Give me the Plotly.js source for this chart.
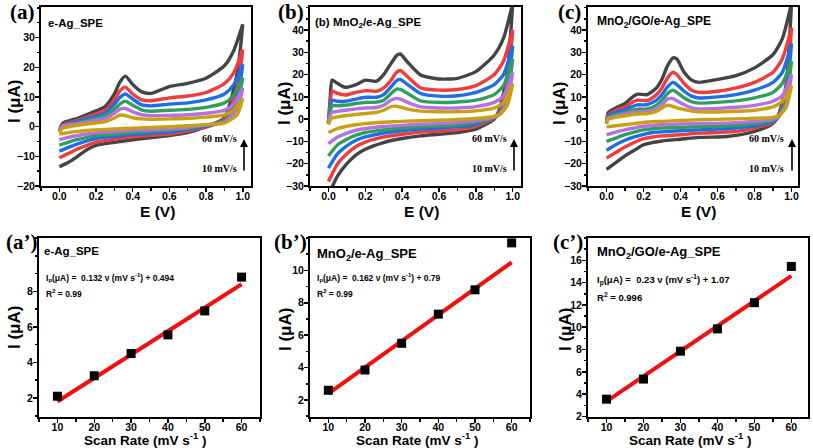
<!DOCTYPE html>
<html><head><meta charset="utf-8">
<script src="https://cdn.plot.ly/plotly-3.0.1.min.js"></script>
<style>html,body{margin:0;padding:0;background:#fff}#chart{width:813px;height:448px}</style>
</head><body><div id="chart"></div>
<script>
// ---------- DATA ----------
const scanRates = [60, 50, 40, 30, 20, 10];
const curveColors = ['#444444', '#f03c3c', '#1f6ee8', '#2ea05c', '#b470e4', '#c9a010'];

// Panel (a) e-Ag_SPE
const aEfwd = [0, 0.02, 0.1, 0.2, 0.25, 0.3, 0.33, 0.36, 0.4, 0.45, 0.5, 0.6, 0.7, 0.8, 0.9, 0.95, 1.0];
const aFwd60 = [-1.5, 1.2, 2.8, 5.3, 6.8, 11, 15, 17, 14.2, 11.7, 11.2, 13.5, 14.6, 16.3, 20.5, 25.5, 34.5];
const aFwd50 = [-1.2, 0.6, 2.2, 4.3, 5.5, 9, 12, 13.3, 11, 9, 8.7, 9.7, 10.3, 11.5, 14.5, 18, 26];
const aFwd40 = [-1.5, 0.3, 1.8, 3.5, 4.5, 7.5, 9.8, 11, 9.3, 7.3, 7, 7.6, 8, 9, 11, 14, 21];
const aFwd30 = [-1.5, 0.2, 1.3, 2.8, 3.7, 5.8, 7.6, 8.6, 7.2, 5.6, 5.2, 5.5, 5.8, 6.5, 8, 10.5, 16.5];
const aFwd20 = [-1.5, 0.2, 1, 2.2, 2.8, 4.5, 5.9, 6.1, 5, 4, 3.7, 3.8, 4, 4.5, 5.5, 7.5, 13];
const aFwd10 = [-2, -0.5, 0.5, 1.3, 1.7, 2.9, 3.9, 3.7, 3, 2.6, 2.5, 2.6, 2.8, 3.2, 4, 5.5, 9.5];
const aErev = [1.0, 0.97, 0.9, 0.8, 0.7, 0.6, 0.4, 0.3, 0.2, 0.15, 0.1, 0.05, 0.0];
const aRev60 = [34.5, 18, 3, 0, -2, -3, -4.4, -5.3, -6.3, -7.8, -10, -12, -13.5];
const aRev50 = [26, 13, 2.5, -0.2, -1.5, -2.5, -3.4, -4.2, -5.2, -6.3, -7.5, -9, -10.5];
const aRev40 = [21, 10, 2, 0.2, -1, -1.8, -2.6, -3.3, -4, -4.8, -5.8, -7, -8.3];
const aRev30 = [16.5, 8, 1.8, 0.5, -0.6, -1.2, -2, -2.5, -3, -3.6, -4.3, -5.2, -6.2];
const aRev20 = [13, 6, 1.5, 0.6, -0.2, -0.7, -1.3, -1.7, -2.1, -2.5, -3, -3.6, -4.4];
const aRev10 = [9.5, 4, 1.2, 0.7, 0.3, 0, -0.5, -0.8, -1.1, -1.3, -1.6, -2, -2.5];

// Panel (b) MnO2/e-Ag_SPE
const bEfwd = [0, 0.01, 0.02, 0.05, 0.09, 0.15, 0.2, 0.26, 0.3, 0.34, 0.37, 0.39, 0.43, 0.5, 0.6, 0.7, 0.8, 0.9, 0.95, 1.0];
const bFwd60 = [-2, 10, 17.5, 16, 14.3, 15.5, 17.5, 17, 20, 25, 28.5, 29.2, 25.5, 19.8, 18, 18.3, 21.3, 28.8, 36.3, 52];
const bFwd50 = [-1.5, 7, 12.5, 11.5, 10.8, 12, 12.8, 12.5, 14, 17.5, 21, 21.8, 19, 14, 13, 13.3, 15, 20, 26, 40];
const bFwd40 = [-1.5, 5, 8.5, 8, 8, 9, 9.8, 9.8, 11, 14.5, 17.3, 17.8, 15.5, 11.5, 10.3, 10.5, 12, 15.5, 20, 33];
const bFwd30 = [-1, 3.5, 6, 6, 6.2, 7, 7.5, 7.6, 8.5, 11.5, 13.5, 13.3, 11.5, 8.2, 7.5, 7.7, 8.5, 11, 15, 27];
const bFwd20 = [-1, 1.8, 3, 3.5, 4, 4.6, 5, 5.2, 6.2, 8.5, 9.3, 9, 7.5, 5.5, 5, 5, 5.6, 7.5, 10.5, 21];
const bFwd10 = [-2.5, -0.5, 0.5, 1, 1.5, 2.1, 2.5, 3, 4, 5.6, 5.8, 5.4, 4.5, 3.6, 3.3, 3.3, 3.7, 5, 7.5, 16];
const bErev = [1.0, 0.97, 0.93, 0.9, 0.8, 0.7, 0.6, 0.5, 0.4, 0.3, 0.2, 0.15, 0.1, 0.05, 0.0];
const bRev60 = [52, 20, 5, 0, -4.5, -6, -6.8, -7.5, -8.7, -10.5, -13.5, -16, -20, -25.5, -34];
const bRev50 = [40, 15, 4, 0.5, -3.3, -4.8, -5.3, -5.8, -6.8, -8, -10.3, -12.3, -15.5, -20, -28];
const bRev40 = [33, 12, 3, 0.7, -2.3, -3.5, -4, -4.5, -5.2, -6.2, -8, -9.5, -12, -15.5, -22];
const bRev30 = [27, 10, 2.5, 0.8, -1.5, -2.5, -3, -3.4, -4, -4.8, -6, -7.2, -9, -11.5, -16.5];
const bRev20 = [21, 8, 2.2, 1, -0.7, -1.5, -2, -2.3, -2.8, -3.3, -4.2, -5, -6.3, -8, -11];
const bRev10 = [16, 6, 2, 1.2, 0.3, -0.2, -0.5, -0.7, -1, -1.4, -2, -2.5, -3.2, -4.2, -6];

// Panel (c) MnO2/GO/e-Ag_SPE
const cEfwd = [0, 0.01, 0.05, 0.1, 0.15, 0.17, 0.22, 0.27, 0.3, 0.33, 0.36, 0.38, 0.42, 0.46, 0.5, 0.6, 0.7, 0.8, 0.9, 0.95, 1.0];
const cFwd60 = [-2, 3, 5, 7, 10.5, 11.2, 11, 14, 18, 24, 27.5, 27, 21, 17.5, 16.5, 17.8, 19.5, 23, 29, 36, 52];
const cFwd50 = [-1.5, 2, 4, 5.5, 8, 8.5, 8.3, 11, 14, 18.5, 21, 20, 16, 13, 12, 12.5, 14, 16.5, 21, 27, 41];
const cFwd40 = [-1, 1.5, 3, 4.3, 6, 6.4, 6.5, 8.5, 11, 14.5, 16.5, 15.5, 12.5, 10.3, 9.5, 10, 11, 13, 16.5, 21, 34];
const cFwd30 = [-1, 1, 2, 3, 4.3, 4.5, 4.6, 6.3, 8.5, 11.5, 13, 12, 9.5, 7.8, 7.2, 7.5, 8.2, 9.5, 12, 16, 26];
const cFwd20 = [-0.5, 0.5, 1.5, 2.3, 3.2, 3.3, 3.4, 4.6, 6.3, 9, 9.2, 8.2, 6.5, 5, 4.6, 4.8, 5.3, 6.2, 8, 10.5, 20];
const cFwd10 = [-1.8, 0, 0.8, 1.5, 2.2, 2.3, 2.5, 3.5, 5, 6.3, 5.7, 5, 4.3, 3.6, 3.3, 3.2, 3.5, 4, 5.5, 8, 15];
const cErev = [1.0, 0.97, 0.93, 0.9, 0.8, 0.7, 0.65, 0.6, 0.5, 0.4, 0.3, 0.25, 0.2, 0.15, 0.1, 0.05, 0.0];
const cRev60 = [52, 15, 2, -2, -5.5, -7.3, -7.8, -8, -8.2, -9, -9.8, -10.5, -11.5, -14, -16.5, -19.5, -22.5];
const cRev50 = [41, 12, 1.5, -1.5, -4, -5.5, -5.8, -6, -6.3, -7, -7.5, -8, -8.8, -10.5, -12.5, -15, -17.5];
const cRev40 = [34, 10, 1, -1, -3, -4, -4.3, -4.5, -4.8, -5.2, -5.7, -6, -6.8, -8, -9.5, -11.5, -14];
const cRev30 = [26, 8, 1, -0.5, -2, -2.8, -3, -3.2, -3.4, -3.7, -4, -4.3, -4.8, -5.8, -7, -8.5, -10];
const cRev20 = [20, 6, 1.2, 0, -1, -1.6, -1.8, -1.9, -2, -2.2, -2.5, -2.8, -3.2, -4, -4.8, -5.8, -7];
const cRev10 = [15, 5, 1.5, 0.8, 0.4, 0.1, 0, -0.1, -0.3, -0.6, -1, -1.2, -1.5, -2, -2.5, -3, -3.5];

// Peak current vs scan rate
const rateX = [10, 20, 30, 40, 50, 60];
const ipA = [2.1, 3.25, 4.5, 5.55, 6.9, 8.8];
const ipB = [2.6, 3.85, 5.5, 7.3, 8.8, 11.7];
const ipC = [3.55, 5.35, 7.85, 9.85, 12.2, 15.45];
const fitX = [10, 60];
const fitA = [1.8, 8.4];
const fitB = [2.4, 10.5];
const fitC = [3.35, 14.6];

// ---------- BUILD ----------
const W = 813, H = 448;
const px = x => x / W, py = y => (H - y) / H;
const traces = [];
function addCV(ax, Ef, fwds, Er, revs) {
  for (let i = 0; i < fwds.length; i++) {
    traces.push({
      x: Ef.concat(Er), y: fwds[i].concat(revs[i]),
      xaxis: 'x' + ax, yaxis: 'y' + ax, type: 'scatter', mode: 'lines',
      line: {color: curveColors[i], width: 3.4, shape: 'spline', smoothing: 0.6},
      name: scanRates[i] + ' mV/s', showlegend: false, hoverinfo: 'skip'
    });
  }
}
addCV('', aEfwd, [aFwd60, aFwd50, aFwd40, aFwd30, aFwd20, aFwd10], aErev, [aRev60, aRev50, aRev40, aRev30, aRev20, aRev10]);
addCV('2', bEfwd, [bFwd60, bFwd50, bFwd40, bFwd30, bFwd20, bFwd10], bErev, [bRev60, bRev50, bRev40, bRev30, bRev20, bRev10]);
addCV('3', cEfwd, [cFwd60, cFwd50, cFwd40, cFwd30, cFwd20, cFwd10], cErev, [cRev60, cRev50, cRev40, cRev30, cRev20, cRev10]);
[['4', ipA, fitA], ['5', ipB, fitB], ['6', ipC, fitC]].forEach(([ax, ip, fit]) => {
  traces.push({x: fitX, y: fit, xaxis: 'x' + ax, yaxis: 'y' + ax, mode: 'lines',
    line: {color: '#f01010', width: 4}, showlegend: false});
  traces.push({x: rateX, y: ip, xaxis: 'x' + ax, yaxis: 'y' + ax, mode: 'markers',
    marker: {symbol: 'square', size: 9, color: '#000'}, showlegend: false});
});

const tf = {family: 'Liberation Sans, Arial, sans-serif', size: 10.5, color: '#000', weight: 'bold'};
function axis(dom, anchor, range, extra) {
  return Object.assign({
    domain: dom, anchor: anchor, range: range, showline: true, linecolor: '#000', linewidth: 2,
    mirror: true, ticks: 'outside', ticklen: 4, tickwidth: 1.5, tickcolor: '#000', ticklabelstandoff: -2,
    showgrid: false, zeroline: false, tickfont: tf, fixedrange: true
  }, extra);
}
const mnr = (d) => ({dtick: d, tick0: 0, ticks: 'outside', ticklen: 2.5, tickcolor: '#000'});
const topY = [py(186), py(7)], botY = [py(417), py(238)];
const xTop = {dtick: 0.2, tick0: 0, tickformat: '.1f', ticklabelstandoff: -5, minor: mnr(0.1)};
const xBot = {dtick: 10, tick0: 0, ticklabelstandoff: -5, minor: mnr(5)};
const layout = {
  width: W, height: H, margin: {l: 0, r: 0, t: 0, b: 0},
  paper_bgcolor: '#fff', plot_bgcolor: '#fff', showlegend: false,
  xaxis: axis([px(41), px(251)], 'y', [-0.1, 1.045], xTop),
  yaxis: axis(topY, 'x', [-20, 40.3], {tickmode: 'array', tickvals: [-20, -10, 0, 10, 20, 30], minor: mnr(5)}),
  xaxis2: axis([px(310), px(521)], 'y2', [-0.1, 1.045], xTop),
  yaxis2: axis(topY, 'x2', [-30, 50.3], {tickmode: 'array', tickvals: [-30, -20, -10, 0, 10, 20, 30, 40], minor: mnr(5)}),
  xaxis3: axis([px(588), px(798)], 'y3', [-0.1, 1.035], xTop),
  yaxis3: axis(topY, 'x3', [-30, 50.3], {tickmode: 'array', tickvals: [-30, -20, -10, 0, 10, 20, 30, 40], minor: mnr(5)}),
  xaxis4: axis([px(39), px(260)], 'y4', [5, 65], xBot),
  yaxis4: axis(botY, 'x4', [0.93, 11], {tickmode: 'array', tickvals: [2, 4, 6, 8], minor: mnr(1)}),
  xaxis5: axis([px(310), px(530)], 'y5', [5, 65], xBot),
  yaxis5: axis(botY, 'x5', [0.95, 12], {tickmode: 'array', tickvals: [2, 4, 6, 8, 10], minor: mnr(1)}),
  xaxis6: axis([px(588), px(808)], 'y6', [5, 64.5], xBot),
  yaxis6: axis(botY, 'x6', [1.95, 18], {tickmode: 'array', tickvals: [2, 4, 6, 8, 10, 12, 14, 16], minor: mnr(1)}),
  annotations: []
};
const A = layout.annotations;
const sans = (s, w) => ({family: 'Liberation Sans, Arial, sans-serif', size: s, color: '#000', weight: w || 'bold'});
const serif = s => ({family: 'Liberation Serif, Times New Roman, serif', size: s, color: '#000', weight: 'bold'});
function txt(x, y, text, font, opts) {
  A.push(Object.assign({xref: 'paper', yref: 'paper', x: px(x), y: py(y), text: text, font: font,
    showarrow: false, xanchor: 'left', yanchor: 'middle'}, opts || {}));
}
// panel letters
txt(22, 12, '(a)', serif(21), {xanchor: 'center'});
txt(291, 12, '(b)', serif(21), {xanchor: 'center'});
txt(569, 12, '(c)', serif(21), {xanchor: 'center'});
txt(21, 242, '(a’)', serif(21), {xanchor: 'center'});
txt(290, 242, '(b’)', serif(21), {xanchor: 'center'});
txt(568, 242, '(c’)', serif(21), {xanchor: 'center'});
// axis titles
[[15, 102], [285, 104], [560, 104], [14, 328], [285, 330], [565, 330]].forEach(p =>
  txt(p[0], p[1], 'I (μA)', sans(17), {xanchor: 'center', textangle: -90}));
[[157, 211], [422, 211], [698, 211]].forEach(p => txt(p[0], p[1], 'E (V)', sans(15.5), {xanchor: 'center'}));
[[145, 439], [417, 439], [690, 439]].forEach(p =>
  txt(p[0], p[1], 'Scan Rate (mV s<sup>-1</sup> )', sans(13.5), {xanchor: 'center'}));
// sample labels
txt(46, 23, 'e-Ag_SPE', sans(11.5));
txt(313, 23, '(b) MnO<sub>2</sub>/e-Ag_SPE', sans(11.5));
txt(595, 22, 'MnO<sub>2</sub>/GO/e-Ag_SPE', sans(12));
txt(42, 251, 'e-Ag_SPE', sans(11.5));
txt(315, 254, 'MnO<sub>2</sub>/e-Ag_SPE', sans(13));
txt(595, 253, 'MnO<sub>2</sub>/GO/e-Ag_SPE', sans(13));
// equations
txt(44, 277, 'I<sub>p</sub>(μA) =  0.132 ν (mV s<sup>-1</sup>) + 0.494', sans(8.5));
txt(44, 293, 'R<sup>2</sup> = 0.99', sans(8.5));
txt(315, 277, 'I<sub>p</sub>(μA) =  0.162 ν (mV s<sup>-1</sup>) + 0.79', sans(8.5));
txt(315, 293, 'R<sup>2</sup> = 0.99', sans(8.5));
txt(595, 280, 'I<sub>p</sub>(μA) =  0.23 ν (mV s<sup>-1</sup>) + 1.07', sans(9.5));
txt(595, 297, 'R<sup>2</sup> = 0.996', sans(9.5));
// scan-rate labels and arrows
[[200, 244], [470, 514], [747, 792]].forEach(p => {
  txt(p[0], 138, '60 mV/s', serif(10));
  txt(p[0], 168, '10 mV/s', serif(10));
  A.push({xref: 'paper', yref: 'paper', x: px(p[1]), y: py(139), ax: 0, ay: 33, axref: 'pixel', ayref: 'pixel',
    text: '', showarrow: true, arrowhead: 2, arrowsize: 1, arrowwidth: 1.6, arrowcolor: '#000'});
});
Plotly.newPlot('chart', traces, layout, {staticPlot: true, displayModeBar: false});
</script></body></html>
